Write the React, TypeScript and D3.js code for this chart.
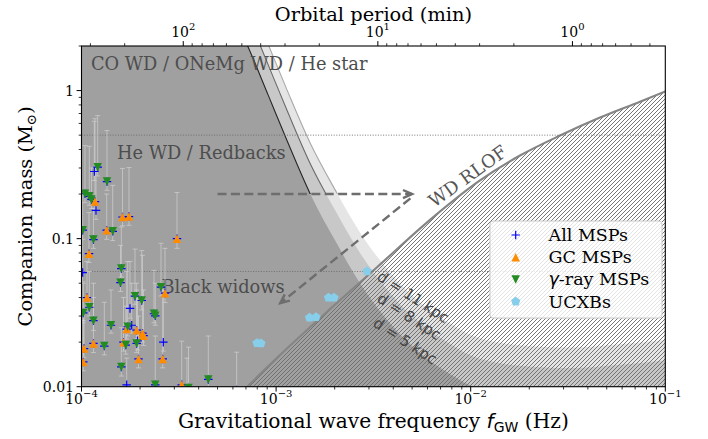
import React from 'react';
import * as d3 from 'd3';

const W = 708;
const H = 439;
const PL = 81.5, PR = 665.3, PT = 46, PB = 386.7;

// ---------- data ----------
const freqDomain: [number, number] = [1e-4, 1e-1];
const massDomain: [number, number] = [0.01, 2];
const xMajor = [1e-4, 1e-3, 1e-2, 1e-1];
const xMajorExp = ['−4', '−3', '−2', '−1'];
const yMajor = [0.01, 0.1, 1];
const yMajorLabel = ['0.01', '0.1', '1'];
const pMajor = [100, 10, 1];
const pMajorExp = ['2', '1', '0'];

// LISA-like minimum detectable companion mass, [f (Hz), m (Msun)]
const sens5: [number, number][] = [
  [6.222e-4, 2.958], [7.171e-4, 1.976], [9.087e-4, 0.9385], [1.1377e-3, 0.4597],
  [1.4938e-3, 0.202], [2.0077e-3, 0.0974], [2.6985e-3, 0.05], [3.848e-3, 0.02687],
  [5.489e-3, 0.01687], [7.827e-3, 0.01218], [9.918e-3, 0.01022], [1.7922e-2, 0.00866],
  [3.238e-2, 0.00835], [5.852e-2, 0.00879], [0.102, 0.00946],
];
const sens8: [number, number][] = [
  [6.222e-4, 4.733], [7.171e-4, 3.162], [9.087e-4, 1.502], [1.1377e-3, 0.7355],
  [1.4938e-3, 0.3232], [2.0077e-3, 0.1558], [2.6985e-3, 0.08], [3.848e-3, 0.04299],
  [5.489e-3, 0.02699], [7.827e-3, 0.01949], [9.918e-3, 0.01635], [1.7922e-2, 0.01386],
  [3.238e-2, 0.01336], [5.852e-2, 0.01406], [0.102, 0.01514],
];
const sens11: [number, number][] = [
  [6.222e-4, 6.508], [7.171e-4, 4.347], [9.087e-4, 2.065], [1.1377e-3, 1.0113],
  [1.4938e-3, 0.4444], [2.0077e-3, 0.2143], [2.6985e-3, 0.11], [3.848e-3, 0.0591],
  [5.489e-3, 0.0371], [7.827e-3, 0.0268], [9.918e-3, 0.02248], [1.7922e-2, 0.01905],
  [3.238e-2, 0.01837], [5.852e-2, 0.01934], [0.102, 0.02081],
];
const sensLineMinMass = 0.2;

// WD Roche-lobe overflow limit
const rlof: [number, number][] = [
  [6.522e-4, 0.00893], [7.086e-4, 0.00995], [1.0471e-3, 0.01635], [1.892e-3, 0.03339],
  [3.3e-3, 0.06408], [6.402e-3, 0.1392], [1.1163e-2, 0.2471], [1.7922e-2, 0.3641],
  [2.877e-2, 0.4967], [4.618e-2, 0.6569], [7.413e-2, 0.8418], [0.102, 0.9984],
];

const massLines = [0.5, 0.06];

// [f, m, lower, upper]
const gcMSPs: [number, number, number, number][] = [
  [1.173e-4, 0.178, 0.155, 0.646], [1.624e-4, 0.14, 0.122, 0.298], [1.754e-4, 0.141, 0.123, 0.302],
  [1.347e-4, 0.114, 0.099, 0.2], [3.096e-4, 0.1, 0.086, 0.205], [1.093e-4, 0.0792, 0.069, 0.15],
  [1.067e-4, 0.04, 0.035, 0.07], [2.686e-4, 0.0428, 0.037, 0.086], [1.707e-4, 0.0245, 0.021, 0.06],
  [1.921e-4, 0.0241, 0.021, 0.045], [2.058e-4, 0.023, 0.02, 0.0772], [2.083e-4, 0.0221, 0.019, 0.045],
  [1.644e-4, 0.02, 0.0174, 0.04], [1.152e-4, 0.0196, 0.017, 0.04], [1.03e-4, 0.0181, 0.0157, 0.032],
  [1.963e-4, 0.0154, 0.0134, 0.03], [2.614e-4, 0.0154, 0.0134, 0.045], [1.021e-4, 0.0147, 0.0128, 0.028],
  [3.273e-4, 0.0103, 0.009, 0.0203],
];
const gammaMSPs: [number, number, number, number][] = [
  [1.211e-4, 0.304, 0.265, 0.677], [1.352e-4, 0.243, 0.212, 0.537], [1.042e-4, 0.201, 0.175, 0.425],
  [1.097e-4, 0.193, 0.168, 0.42], [1.126e-4, 0.184, 0.16, 0.3], [1.014e-4, 0.114, 0.099, 0.2],
  [1.447e-4, 0.112, 0.097, 0.229], [1.152e-4, 0.0985, 0.086, 0.16], [1.602e-4, 0.0628, 0.055, 0.12],
  [1.586e-4, 0.0504, 0.044, 0.09], [2.562e-4, 0.047, 0.041, 0.093], [1.883e-4, 0.0409, 0.036, 0.085],
  [2.039e-4, 0.0382, 0.033, 0.083], [1.097e-4, 0.0344, 0.03, 0.06], [1.021e-4, 0.0315, 0.027, 0.05],
  [2.358e-4, 0.0311, 0.027, 0.061], [2.394e-4, 0.0301, 0.026, 0.05], [1.152e-4, 0.0279, 0.024, 0.05],
  [1.418e-4, 0.026, 0.023, 0.045], [1.727e-4, 0.0254, 0.022, 0.07], [1.689e-4, 0.0191, 0.0166, 0.035],
  [1.921e-4, 0.0196, 0.017, 0.05], [1.31e-4, 0.0188, 0.0164, 0.0372], [1.602e-4, 0.0136, 0.0118, 0.025],
  [2.394e-4, 0.0103, 0.009, 0.022], [3.547e-4, 0.0098, 0.0085, 0.0185], [4.483e-4, 0.0112, 0.0097, 0.022],
];
const otherMSPs: [number, number, number, number][] = [
  [1.164e-4, 0.284, 0.247, 0.62], [1.187e-4, 0.155, 0.135, 0.3], [1.014e-4, 0.059, 0.051, 0.12],
  [1.775e-4, 0.0338, 0.029, 0.07], [1.811e-4, 0.026, 0.023, 0.05], [1.94e-4, 0.0204, 0.0177, 0.04],
  [2.633e-4, 0.02, 0.0174, 0.045], [1.707e-4, 0.0103, 0.009, 0.0156], [6.27e-4, 0.0095, 0.0083, 0.0171],
  [3.48e-4, 0.0097, 0.0084, 0.0156],
];
const ucxbs: [number, number][] = [
  [7.98e-4, 0.0197], [8.36e-4, 0.0196], [1.485e-3, 0.02926], [1.603e-3, 0.02949],
  [1.859e-3, 0.03991], [1.984e-3, 0.03991], [2.932e-3, 0.06021],
];

const arrows: { from: [number, number]; to: [number, number] }[] = [
  { from: [5.0e-4, 0.2], to: [5.0e-3, 0.2] },
  { from: [4.9e-3, 0.187], to: [1.05e-3, 0.0366] },
];

const legendItems = ['All MSPs', 'GC MSPs', 'γ-ray MSPs', 'UCXBs'];

// ---------- scales ----------
const x = d3.scaleLog().domain(freqDomain).range([PL, PR]);
const y = d3.scaleLog().domain(massDomain).range([PB, PT]);
const periodOf = (f: number) => 2 / f / 60;
const p = d3.scaleLog().domain([periodOf(freqDomain[0]), periodOf(freqDomain[1])]).range([PL, PR]);

const COL_BLUE = '#0000ff';
const COL_ORANGE = '#ff8c00';
const COL_GREEN = '#228b22';
const COL_SKY = '#87ceeb';
const SERIF = 'DejaVu Serif';
const SANS = 'DejaVu Sans';

const lineGen = d3
  .line<[number, number]>()
  .x((d) => x(d[0]))
  .y((d) => y(d[1]))
  .curve(d3.curveMonotoneX);

function areaBelow(curve: [number, number][]) {
  const path = lineGen(curve) as string;
  const xl = PL - 10, yb = PB + 30, yt = PT - 60;
  const x0 = x(curve[0][0]);
  const xe = x(curve[curve.length - 1][0]);
  return `M${xl},${yb}L${xl},${yt}L${x0},${yt}` + path.replace(/^M/, 'L') + `L${xe + 10},${y(curve[curve.length - 1][1])}L${xe + 10},${yb}Z`;
}
function regionBelow(curve: [number, number][]) {
  const path = lineGen(curve) as string;
  const yb = PB + 30;
  const x0 = x(curve[0][0]);
  const xe = x(curve[curve.length - 1][0]);
  return path + `L${xe + 10},${y(curve[curve.length - 1][1])}L${xe + 10},${yb}L${x0},${yb}Z`;
}

const S = 8.5;
const tri = (up: boolean, s = S) => {
  const h = s / 2;
  return up ? `M0,${-h}L${h},${h}L${-h},${h}Z` : `M0,${h}L${h},${-h}L${-h},${-h}Z`;
};
const plus = (s = S) => `M${-s / 2},0H${s / 2}M0,${-s / 2}V${s / 2}`;
const pent = (s = S) => {
  const r = s / 2 + 0.6;
  const pts = d3.range(5).map((k) => {
    const a = -Math.PI / 2 + (k * 2 * Math.PI) / 5;
    return `${(r * Math.cos(a)).toFixed(2)},${(r * Math.sin(a)).toFixed(2)}`;
  });
  return `M${pts.join('L')}Z`;
};

function Arrow({ from, to }: { from: [number, number]; to: [number, number] }) {
  const x1 = x(from[0]), y1 = y(from[1]), x2 = x(to[0]), y2 = y(to[1]);
  const ang = Math.atan2(y2 - y1, x2 - x1);
  const L = 10, a = (24 * Math.PI) / 180;
  const h1 = [x2 - L * Math.cos(ang - a), y2 - L * Math.sin(ang - a)];
  const h2 = [x2 - L * Math.cos(ang + a), y2 - L * Math.sin(ang + a)];
  return (
    <g stroke="#6e6e6e" strokeWidth={2.4} fill="none">
      <line x1={x1} y1={y1} x2={x2} y2={y2} strokeDasharray="9,4.4" />
      <path d={`M${h1[0]},${h1[1]}L${x2},${y2}L${h2[0]},${h2[1]}`} strokeLinejoin="miter" />
    </g>
  );
}

export default function App() {
  const allMSPs = [...otherMSPs, ...gcMSPs, ...gammaMSPs];
  const xMinor = x.ticks().filter((t) => !xMajor.some((m) => Math.abs(m - t) / m < 1e-6));
  const yMinor = y.ticks().filter((t) => !yMajor.some((m) => Math.abs(m - t) / m < 1e-6));
  const pMinor = p.ticks().filter((t) => !pMajor.some((m) => Math.abs(m - t) / m < 1e-6));

  const legX = 490, legY = 221, legW = 172, legH = 97;
  const rowY = (i: number) => legY + 14 + i * 22.2;

  return (
    <svg width={W} height={H} style={{ position: 'absolute', left: 0, top: 0, background: '#fff' }} fontFamily={SERIF}>
      <defs>
        <clipPath id="plot">
          <rect x={PL} y={PT} width={PR - PL} height={PB - PT} />
        </clipPath>
        <clipPath id="topLines">
          <rect x={PL} y={PT} width={PR - PL} height={y(sensLineMinMass) - PT} />
        </clipPath>
        <pattern id="hatch" patternUnits="userSpaceOnUse" width={4} height={4}>
          <path d="M-1,1L1,-1M0,4L4,0M3,5L5,3" stroke="#6f6f6f" strokeWidth={0.95} />
        </pattern>
      </defs>

      <g clipPath="url(#plot)">
        <path d={areaBelow(sens11)} fill="#e5e5e5" />
        <path d={areaBelow(sens8)} fill="#c8c8c8" />
        <path d={areaBelow(sens5)} fill="#a0a0a0" />
        <g clipPath="url(#topLines)" fill="none" strokeWidth={1.1}>
          <path d={lineGen(sens11) as string} stroke="#a8a8a8" />
          <path d={lineGen(sens8) as string} stroke="#6a6a6a" />
          <path d={lineGen(sens5) as string} stroke="#262626" />
        </g>
        <path d={regionBelow(rlof)} fill="url(#hatch)" />
        <path d={lineGen(rlof) as string} fill="none" stroke="#858585" strokeWidth={2.2} />
        {massLines.map((m) => (
          <line key={m} x1={PL} x2={PR} y1={y(m)} y2={y(m)} stroke="#6a6a6a" strokeWidth={0.9} strokeDasharray="1,1.6" />
        ))}

        <g fill="#4d4d4d" fontSize={17.8}>
          <text x={91} y={70}>CO WD / ONeMg WD / He star</text>
          <text x={117} y={158.5}>He WD / Redbacks</text>
          <text x={161.5} y={293.3}>Black widows</text>
        </g>

        {/* error bars */}
        <g stroke="#d0d0d0" strokeOpacity={0.7} strokeWidth={1}>
          {allMSPs.map((d, i) => {
            const cx = x(d[0]);
            return (
              <g key={i}>
                <line x1={cx} x2={cx} y1={y(d[2])} y2={y(d[3])} />
                <line x1={cx - 2.5} x2={cx + 2.5} y1={y(d[2])} y2={y(d[2])} />
                <line x1={cx - 2.5} x2={cx + 2.5} y1={y(d[3])} y2={y(d[3])} />
              </g>
            );
          })}
        </g>
        <g stroke={COL_BLUE} strokeWidth={1.2} fill="none">
          {allMSPs.map((d, i) => (
            <path key={i} d={plus()} transform={`translate(${x(d[0])},${y(d[1])})`} />
          ))}
        </g>
        <g fill={COL_ORANGE}>
          {gcMSPs.map((d, i) => (
            <path key={i} d={tri(true)} transform={`translate(${x(d[0])},${y(d[1])})`} />
          ))}
        </g>
        <g fill={COL_GREEN}>
          {gammaMSPs.map((d, i) => (
            <path key={i} d={tri(false)} transform={`translate(${x(d[0])},${y(d[1])})`} />
          ))}
        </g>
        <g fill={COL_SKY}>
          {ucxbs.map((d, i) => (
            <path key={i} d={pent()} transform={`translate(${x(d[0])},${y(d[1])})`} />
          ))}
        </g>

        {arrows.map((a, i) => (
          <Arrow key={i} from={a.from} to={a.to} />
        ))}

        <text transform="translate(467.5,176) rotate(-36)" textAnchor="middle" dominantBaseline="central" fontSize={18} fill="#555">
          WD RLOF
        </text>
        <g fontFamily={SANS} fontSize={15} fill="#454545" textAnchor="middle" dominantBaseline="central">
          <text transform="translate(413,297) rotate(33)">d = 11 kpc</text>
          <text transform="translate(409,316.5) rotate(33)">d = 8 kpc</text>
          <text transform="translate(405,341) rotate(33)">d = 5 kpc</text>
        </g>
      </g>

      {/* legend */}
      <g>
        <rect x={legX} y={legY} width={legW} height={legH} rx={3} fill="#fff" fillOpacity={0.8} stroke="#cccccc" strokeWidth={1} />
        <path d={plus()} transform={`translate(515.7,${rowY(0)})`} stroke={COL_BLUE} strokeWidth={1.2} fill="none" />
        <path d={tri(true)} transform={`translate(515.7,${rowY(1)})`} fill={COL_ORANGE} />
        <path d={tri(false)} transform={`translate(515.7,${rowY(2)})`} fill={COL_GREEN} />
        <path d={pent()} transform={`translate(515.7,${rowY(3)})`} fill={COL_SKY} />
        <g fontSize={17.5} fill="#000">
          {legendItems.map((t, i) =>
            i === 2 ? (
              <text key={i} x={548.5} y={rowY(i) + 6}>
                <tspan fontFamily={SANS} fontStyle="italic">γ</tspan>-ray MSPs
              </text>
            ) : (
              <text key={i} x={548.5} y={rowY(i) + 6}>
                {t}
              </text>
            ),
          )}
        </g>
      </g>

      {/* axes frame */}
      <rect x={PL} y={PT} width={PR - PL} height={PB - PT} fill="none" stroke="#000" strokeWidth={1.1} />

      {/* ticks */}
      <g stroke="#000" strokeWidth={1}>
        {xMajor.map((t) => (
          <line key={t} x1={x(t)} x2={x(t)} y1={PB} y2={PB + 4.9} />
        ))}
        {xMinor.map((t) => (
          <line key={t} x1={x(t)} x2={x(t)} y1={PB} y2={PB + 2.8} strokeWidth={0.8} />
        ))}
        {yMajor.map((t) => (
          <line key={t} x1={PL - 4.9} x2={PL} y1={y(t)} y2={y(t)} />
        ))}
        {yMinor.map((t) => (
          <line key={t} x1={PL - 2.8} x2={PL} y1={y(t)} y2={y(t)} strokeWidth={0.8} />
        ))}
        {pMajor.map((t) => (
          <line key={t} x1={p(t)} x2={p(t)} y1={PT} y2={PT - 4.9} />
        ))}
        {pMinor.map((t) => (
          <line key={t} x1={p(t)} x2={p(t)} y1={PT} y2={PT - 2.8} strokeWidth={0.8} />
        ))}
      </g>
      <g fontSize={14} fill="#000">
        {xMajor.map((t, i) => (
          <text key={t} x={x(t)} y={403.5} textAnchor="middle">
            10<tspan dy={-6.5} fontSize={10}>{xMajorExp[i]}</tspan>
          </text>
        ))}
        {yMajor.map((t, i) => (
          <text key={t} x={74} y={y(t) + 5} textAnchor="end">
            {yMajorLabel[i]}
          </text>
        ))}
        {pMajor.map((t, i) => (
          <text key={t} x={p(t)} y={36.7} textAnchor="middle">
            10<tspan dy={-6.5} fontSize={10}>{pMajorExp[i]}</tspan>
          </text>
        ))}
      </g>

      {/* axis labels */}
      <g fontSize={19.4} fill="#000">
        <text x={(PL + PR) / 2} y={21} textAnchor="middle">Orbital period (min)</text>
        <text x={(PL + PR) / 2} y={428.3} textAnchor="middle" fontSize={20.2}>
          Gravitational wave frequency <tspan fontFamily={SANS} fontStyle="italic">f</tspan>
          <tspan fontFamily={SANS} fontSize={14} dy={4}>GW</tspan>
          <tspan dy={-4}> (Hz)</tspan>
        </text>
        <text transform={`translate(31.5,${(PT + PB) / 2}) rotate(-90)`} textAnchor="middle">
          Companion mass (M<tspan fontSize={13.5} dy={4}>⊙</tspan>
          <tspan dy={-4}>)</tspan>
        </text>
      </g>
    </svg>
  );
}
